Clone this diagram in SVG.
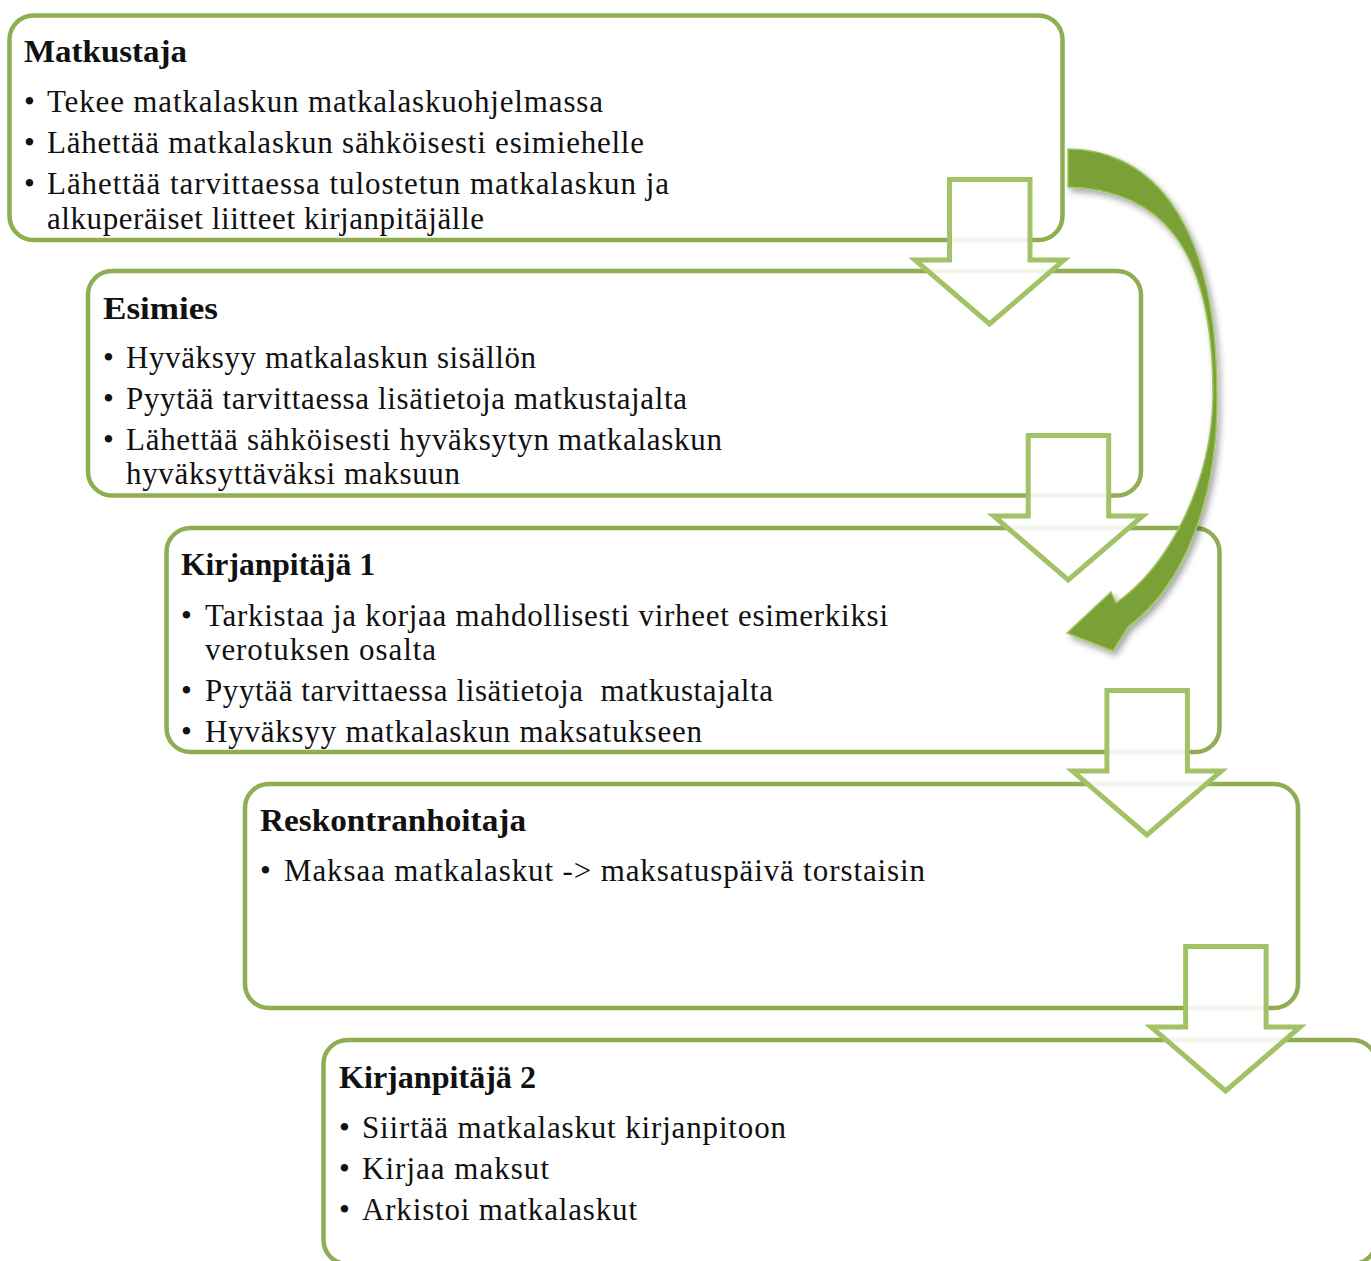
<svg xmlns="http://www.w3.org/2000/svg" width="1371" height="1261" viewBox="0 0 1371 1261">
<defs>
<style>
.box{fill:#ffffff;stroke:#8fad52;stroke-width:4.5}
.down{fill:#ffffff;fill-opacity:0.88;stroke:#a2c266;stroke-width:5;stroke-linejoin:miter}
.t{font-family:"Liberation Serif","Times New Roman",serif;font-size:31px;fill:#111111}
.h{font-weight:bold}
</style>
<filter id="shadow" x="-20%" y="-10%" width="150%" height="130%">
<feDropShadow dx="3" dy="4" stdDeviation="3" flood-color="#000000" flood-opacity="0.35"/>
</filter>
<polygon id="dn" points="949.5,179.5 1030,179.5 1030,260 1064,260 989.5,324 915,260 949.5,260"/>
</defs>

<g id="node1">
<rect class="box" x="9.5" y="15.5" width="1053" height="224.5" rx="24"/>
<text class="t h" x="24" y="62" textLength="163" lengthAdjust="spacingAndGlyphs">Matkustaja</text>
<text class="t" x="24" y="112">•</text>
<text class="t" x="47" y="112" textLength="556" lengthAdjust="spacing">Tekee matkalaskun matkalaskuohjelmassa</text>
<text class="t" x="24" y="153">•</text>
<text class="t" x="47" y="153" textLength="597" lengthAdjust="spacing">Lähettää matkalaskun sähköisesti esimiehelle</text>
<text class="t" x="24" y="194">•</text>
<text class="t" x="47" y="194" textLength="622" lengthAdjust="spacing">Lähettää tarvittaessa tulostetun matkalaskun ja</text>
<text class="t" x="47" y="229" textLength="437" lengthAdjust="spacing">alkuperäiset liitteet kirjanpitäjälle</text>
</g>

<g id="node2">
<rect class="box" x="88" y="271" width="1053" height="224.5" rx="24"/>
<text class="t h" x="103" y="319" textLength="115" lengthAdjust="spacingAndGlyphs">Esimies</text>
<text class="t" x="103" y="368">•</text>
<text class="t" x="126" y="368" textLength="410" lengthAdjust="spacing">Hyväksyy matkalaskun sisällön</text>
<text class="t" x="103" y="409">•</text>
<text class="t" x="126" y="409" textLength="561" lengthAdjust="spacing">Pyytää tarvittaessa lisätietoja matkustajalta</text>
<text class="t" x="103" y="450">•</text>
<text class="t" x="126" y="450" textLength="596" lengthAdjust="spacing">Lähettää sähköisesti hyväksytyn matkalaskun</text>
<text class="t" x="126" y="484" textLength="334" lengthAdjust="spacing">hyväksyttäväksi maksuun</text>
</g>

<g id="node3">
<rect class="box" x="166.5" y="528" width="1053" height="224" rx="24"/>
<text class="t h" x="181" y="575" textLength="194" lengthAdjust="spacingAndGlyphs">Kirjanpitäjä 1</text>
<text class="t" x="181" y="626">•</text>
<text class="t" x="205" y="626" textLength="683" lengthAdjust="spacing">Tarkistaa ja korjaa mahdollisesti virheet esimerkiksi</text>
<text class="t" x="205" y="660" textLength="231" lengthAdjust="spacing">verotuksen osalta</text>
<text class="t" x="181" y="701">•</text>
<text class="t" x="205" y="701" textLength="568" lengthAdjust="spacing" xml:space="preserve">Pyytää tarvittaessa lisätietoja  matkustajalta</text>
<text class="t" x="181" y="742">•</text>
<text class="t" x="205" y="742" textLength="497" lengthAdjust="spacing">Hyväksyy matkalaskun maksatukseen</text>
</g>

<g id="node4">
<rect class="box" x="245" y="784" width="1053" height="224" rx="24"/>
<text class="t h" x="260" y="831" textLength="266" lengthAdjust="spacingAndGlyphs">Reskontranhoitaja</text>
<text class="t" x="260" y="881">•</text>
<text class="t" x="284" y="881" textLength="641" lengthAdjust="spacing">Maksaa matkalaskut -&gt; maksatuspäivä torstaisin</text>
</g>

<g id="node5">
<rect class="box" x="323.5" y="1040" width="1053" height="224" rx="24"/>
<text class="t h" x="339" y="1088" textLength="197" lengthAdjust="spacingAndGlyphs">Kirjanpitäjä 2</text>
<text class="t" x="339" y="1138">•</text>
<text class="t" x="362" y="1138" textLength="424" lengthAdjust="spacing">Siirtää matkalaskut kirjanpitoon</text>
<text class="t" x="339" y="1179">•</text>
<text class="t" x="362" y="1179" textLength="187" lengthAdjust="spacing">Kirjaa maksut</text>
<text class="t" x="339" y="1220">•</text>
<text class="t" x="362" y="1220" textLength="275" lengthAdjust="spacing">Arkistoi matkalaskut</text>
</g>

<g id="connectors">
<use href="#dn" class="down"/>
<use href="#dn" class="down" transform="translate(78.7,256)"/>
<use href="#dn" class="down" transform="translate(157.4,511)"/>
<use href="#dn" class="down" transform="translate(236.1,767)"/>
<path id="loop" filter="url(#shadow)" fill="#7aa038" stroke="#a0c65e" stroke-width="1.5" stroke-linejoin="miter"
 d="M 1068,149 C 1140,149 1217,205 1217,395 C 1218,500 1184,585 1128,627 L 1113,651 L 1067,633 L 1111,592 L 1116,603 C 1170,565 1212,482 1213,395 C 1213,245 1160,190 1068,187 Z"/>
</g>
</svg>
